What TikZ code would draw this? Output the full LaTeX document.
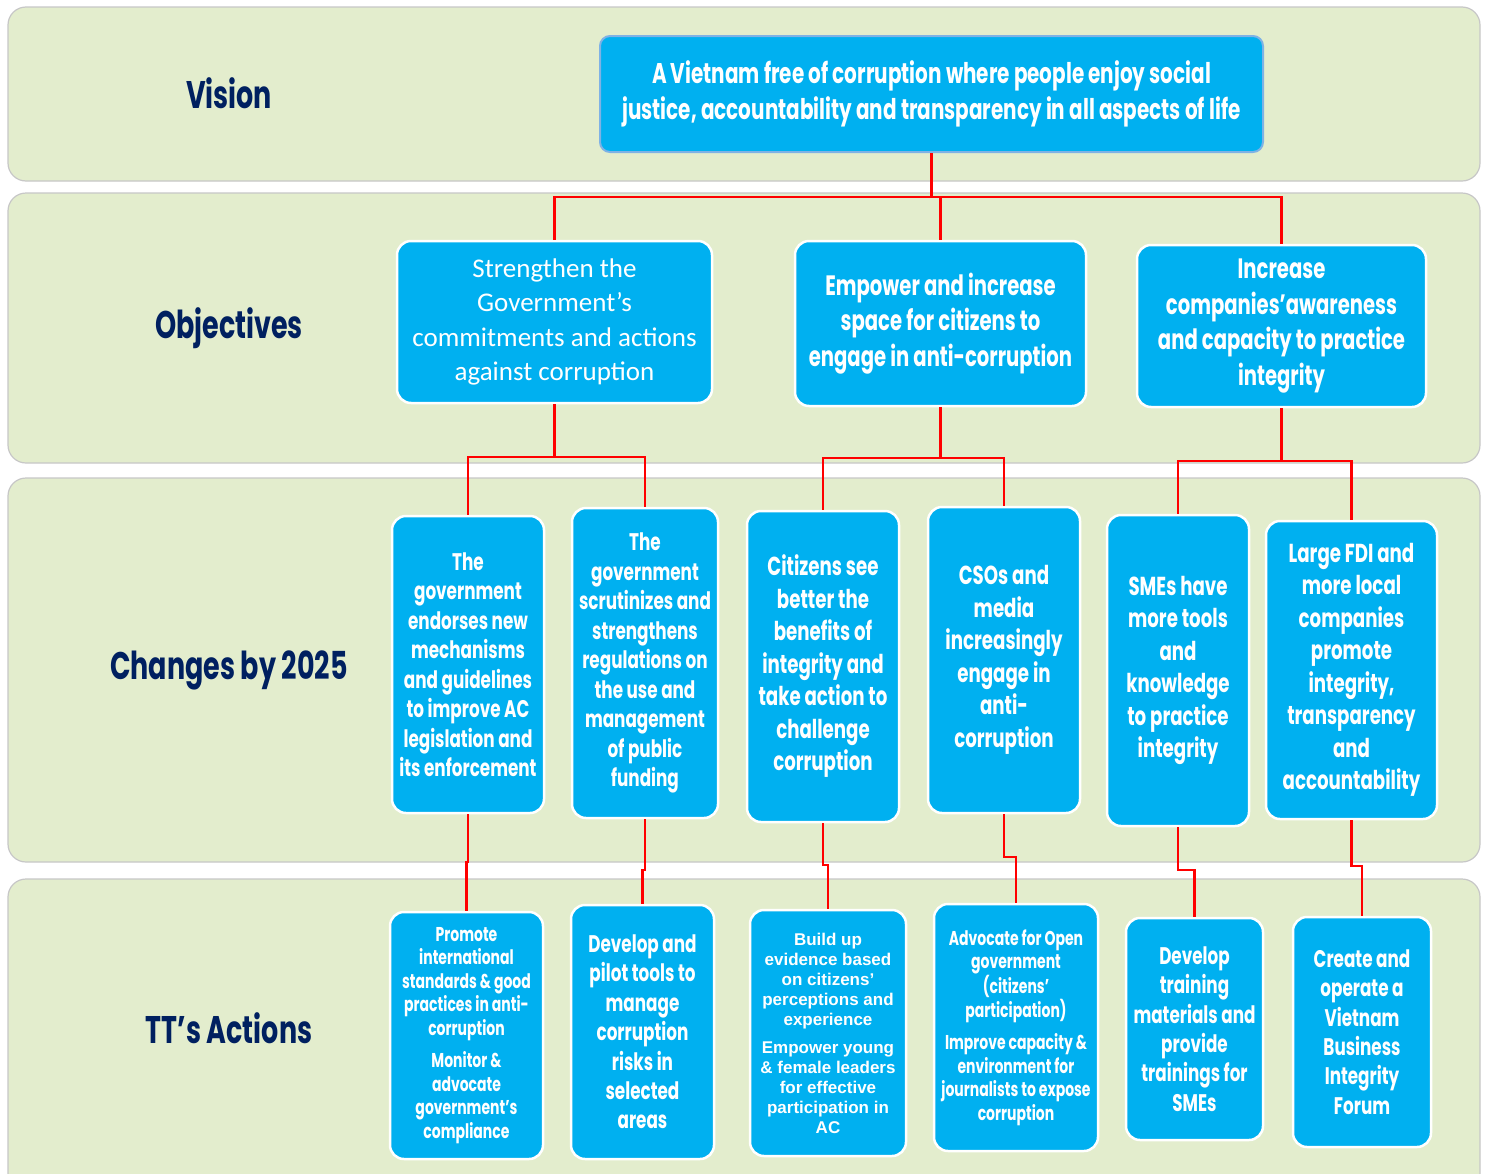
\documentclass[tikz,border=0pt]{standalone}
\usepackage{fontspec}
\setmainfont{Liberation Sans}
\newfontfamily\cgf{Poppins}[FakeStretch=0.7]
\newfontfamily\calf{Carlito}
\newfontfamily\arf{Liberation Sans}
\definecolor{boxblue}{HTML}{00B0F0}
\definecolor{bandgreen}{HTML}{E3EDCD}
\definecolor{navy}{HTML}{002060}
\definecolor{connred}{HTML}{FF0000}
\definecolor{visborder}{HTML}{7FB2E5}
\tikzset{
  band/.style={fill=bandgreen, draw=black!22, line width=1.2pt, rounded corners=18pt},
  box/.style={fill=boxblue, draw=white, line width=2.5pt, rounded corners=14pt, inner sep=0pt, align=center, text=white},
  conn/.style={draw=connred, line width=2.8pt},
  lbl/.style={text=navy, font=\cgf\bfseries\fontsize{38.5}{46}\selectfont},
  fvis/.style={font=\cgf\bfseries\fontsize{28.5}{36}\selectfont},
  fobj/.style={font=\cgf\bfseries\fontsize{28}{35.5}\selectfont},
  fcal/.style={font=\calf\fontsize{27}{34.5}\selectfont},
  fchg/.style={font=\cgf\bfseries\fontsize{26}{32.5}\selectfont},
  fchs/.style={font=\cgf\bfseries\fontsize{24}{29.5}\selectfont},
  fact/.style={font=\cgf\bfseries\fontsize{24}{29.4}\selectfont},
  facs/.style={font=\cgf\bfseries\fontsize{20}{23.5}\selectfont},
  far/.style={font=\arf\bfseries\fontsize{17}{20}\selectfont}
}
\begin{document}
\begin{tikzpicture}[x=1pt,y=-1pt]
\clip (0,0) rectangle (1486,1173);
\fill[white] (0,0) rectangle (1486,1173);
% bands
\draw[band] (8,7) rectangle (1480,181);
\draw[band] (8,193) rectangle (1480,463);
\draw[band] (8,478) rectangle (1480,862);
\draw[band] (8,879) rectangle (1480,1195);
% labels
\node[lbl] (lv) at (229,93) {Vision};
\node[lbl] (lo) at (229,328) {Objectives};
\node[lbl] (lc) at (229,670) {Changes by 2025};
\node[lbl] (la) at (229,1028) {TT’s Actions};
% vision
\node[box, fvis, draw=visborder, line width=2pt, rounded corners=10pt, minimum width=663pt, minimum height=116pt] (V) at (931.5,94)
  {A Vietnam free of corruption where people enjoy social\\justice, accountability and transparency in all aspects of life};
% objectives
\node[box, fcal, minimum width=315pt, minimum height=162pt] (O1) at (554.5,322)
  {Strengthen the\\Government’s\\commitments and actions\\against corruption};
\node[box, fobj, minimum width=291pt, minimum height=165pt] (O2) at (940.5,323.5)
  {Empower and increase\\space for citizens to\\engage in anti-corruption};
\node[box, fobj, minimum width=289pt, minimum height=162pt] (O3) at (1281.5,326)
  {Increase\\companies’awareness\\and capacity to practice\\integrity};
% changes
\node[box, fchs, minimum width=152pt, minimum height=297pt] (C1) at (468,664.5)
  {The\\government\\endorses new\\mechanisms\\and guidelines\\to improve AC\\legislation and\\its enforcement};
\node[box, fchs, minimum width=146pt, minimum height=310pt] (C2) at (645,663)
  {The\\government\\scrutinizes and\\strengthens\\regulations on\\the use and\\management\\of public\\funding};
\node[box, fchg, minimum width=152pt, minimum height=311pt] (C3) at (823,666.5)
  {Citizens see\\better the\\benefits of\\integrity and\\take action to\\challenge\\corruption};
\node[box, fchg, minimum width=152pt, minimum height=306pt] (C4) at (1004,660)
  {CSOs and\\media\\increasingly\\engage in\\anti-\\corruption};
\node[box, fchg, minimum width=142pt, minimum height=311pt] (C5) at (1178,670.5)
  {SMEs have\\more tools\\and\\knowledge\\to practice\\integrity};
\node[box, fchg, minimum width=171pt, minimum height=298pt] (C6) at (1351.5,670)
  {Large FDI and\\more local\\companies\\promote\\integrity,\\transparency\\and\\accountability};
% actions
\node[box, facs, minimum width=153pt, minimum height=247pt] (A1) at (466.5,1035.5)
  {Promote\\international\\standards \& good\\practices in anti-\\corruption\\[9pt]Monitor \&\\advocate\\government’s\\compliance};
\node[box, fact, minimum width=143pt, minimum height=254pt] (A2) at (642.5,1032)
  {Develop and\\pilot tools to\\manage\\corruption\\risks in\\selected\\areas};
\node[box, far, minimum width=156pt, minimum height=246pt] (A3) at (828,1033)
  {Build up\\evidence based\\on citizens’\\perceptions and\\experience\\[8pt]Empower young\\\& female leaders\\for effective\\participation in\\AC};
\node[box, facs, minimum width=164pt, minimum height=247pt] (A4) at (1016,1027.5)
  {Advocate for Open\\government\\(citizens’\\participation)\\[9pt]Improve capacity \&\\environment for\\journalists to expose\\corruption};
\node[box, fact, minimum width=137pt, minimum height=222pt] (A5) at (1194.5,1029)
  {Develop\\training\\materials and\\provide\\trainings for\\SMEs};
\node[box, fact, minimum width=138pt, minimum height=230pt] (A6) at (1362,1032)
  {Create and\\operate a\\Vietnam\\Business\\Integrity\\Forum};
% connectors
\coordinate (j0) at (931.5,197);
\coordinate (j1) at (554.5,457);
\coordinate (j2) at (940.5,458);
\coordinate (j3) at (1281.5,461);
\draw[conn] (V.south) -- (j0);
\draw[conn] (j0) -| (O1.north);
\draw[conn] (j0) -| (O2.north);
\draw[conn] (j0) -| (O3.north);
\draw[conn] (O1.south) -- (j1);
\draw[conn] (j1) -| (C1.north);
\draw[conn] (j1) -| (C2.north);
\draw[conn] (O2.south) -- (j2);
\draw[conn] (j2) -| (C3.north);
\draw[conn] (j2) -| (C4.north);
\draw[conn] (O3.south) -- (j3);
\draw[conn] (j3) -| (C5.north);
\draw[conn] (j3) -| (C6.north);
\draw[conn] (C1.south) -- (C1.south |- 0,862) -| (A1.north);
\draw[conn] (C2.south) -- (C2.south |- 0,870) -| (A2.north);
\draw[conn] (C3.south) -- (C3.south |- 0,865) -| (A3.north);
\draw[conn] (C4.south) -- (C4.south |- 0,857) -| (A4.north);
\draw[conn] (C5.south) -- (C5.south |- 0,870) -| (A5.north);
\draw[conn] (C6.south) -- (C6.south |- 0,866) -| (A6.north);
\end{tikzpicture}
\end{document}
